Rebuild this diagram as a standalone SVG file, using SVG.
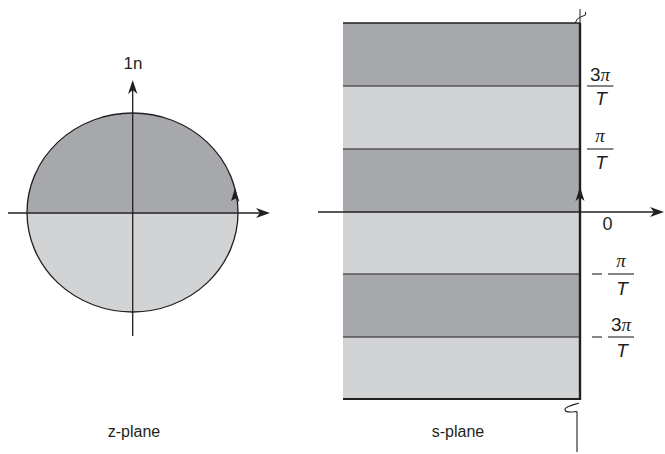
<svg xmlns="http://www.w3.org/2000/svg" width="665" height="454" viewBox="0 0 665 454">
<style>
.ln{stroke:#231f20;fill:none}
.dark{fill:#a7a8ab}
.light{fill:#d2d3d5}
.ah{fill:#231f20;stroke:none}
.t{font-family:"Liberation Sans",Arial,sans-serif;fill:#231f20}
.it{font-family:"Liberation Sans",Arial,sans-serif;font-style:italic;fill:#231f20}
.pi{font-family:"Liberation Serif","Times New Roman",serif;font-style:italic;fill:#231f20}
</style>
<rect width="665" height="454" fill="#fff"/>
<g id="z-plane">
  <ellipse class="light" cx="132.5" cy="212.5" rx="105.5" ry="99.5"/>
  <path class="dark" d="M27,212.5 A105.5,99.5 0 0 1 238,212.5 Z"/>
  <ellipse class="ln" cx="132.5" cy="212.5" rx="105.5" ry="99.5" stroke-width="1.3"/>
  <text class="t" x="133" y="69" font-size="17" text-anchor="middle">1n</text>
  <text class="t" x="134" y="437" font-size="16" text-anchor="middle">z-plane</text>
  <path class="ah" d="M235,188 L239.5,202 L235.8,198.5 L231,201 Z"/>
</g>
<g id="s-plane">
  <rect class="dark" x="343" y="23" width="237" height="63"/>
  <rect class="light" x="343" y="86" width="237" height="63"/>
  <rect class="dark" x="343" y="149" width="237" height="63"/>
  <rect class="light" x="343" y="212" width="237" height="62"/>
  <rect class="dark" x="343" y="274" width="237" height="63"/>
  <rect class="light" x="343" y="337" width="237" height="62"/>
  <g class="ln">
    <line x1="343" y1="23" x2="580" y2="23" stroke-width="1.6"/>
    <line x1="343" y1="86" x2="580" y2="86" stroke-width="1.2"/>
    <line x1="343" y1="149" x2="580" y2="149" stroke-width="1.2"/>
    <line x1="343" y1="274" x2="580" y2="274" stroke-width="1.2"/>
    <line x1="343" y1="337" x2="580" y2="337" stroke-width="1.2"/>
    <line x1="343" y1="399" x2="581" y2="399" stroke-width="2"/>
  </g>
  <text class="t" x="458" y="437" font-size="16" text-anchor="middle">s-plane</text>
</g>
<g id="connectors">
  <line class="ln" x1="8" y1="213" x2="262" y2="213" stroke-width="1.3"/>
  <path class="ah" d="M270,213 L256,208 L260,213 L256,218 Z"/>
  <line class="ln" x1="132.7" y1="88" x2="132.7" y2="336" stroke-width="1.3"/>
  <path class="ah" d="M132.7,80 L128,94 L132.7,90 L137.4,94 Z"/>
  <line class="ln" x1="318" y1="212" x2="656" y2="212" stroke-width="1.4"/>
  <path class="ah" d="M664,212 L650,207 L654,212 L650,217 Z"/>
  <line class="ln" x1="580" y1="23" x2="580" y2="400" stroke-width="2.4"/>
  <path class="ah" d="M580,187 L575.5,201 L580,197.5 L584.5,201 Z"/>
  <path class="ln" d="M580,23 L580,9 M575,23 Q577,18 580.5,17 L585.5,15 L585.5,12" stroke-width="1"/>
  <path class="ln" d="M579,403 C573,405 564,407 565,410 C566,413 571,412 577,411.5 M577,411.5 L577,452" stroke-width="1.1"/>
</g>
<g id="labels">
  <text class="t" x="600" y="81" font-size="19" text-anchor="middle">3<tspan class="pi">π</tspan></text>
  <line class="ln" x1="587" y1="86" x2="613.5" y2="86" stroke-width="1.1"/>
  <text class="it" x="601" y="105" font-size="19" text-anchor="middle">T</text>

  <text class="pi" x="600" y="142" font-size="19" text-anchor="middle">π</text>
  <line class="ln" x1="587" y1="149" x2="613.5" y2="149" stroke-width="1.1"/>
  <text class="it" x="601" y="169" font-size="19" text-anchor="middle">T</text>

  <text class="t" x="607.5" y="230" font-size="18" text-anchor="middle">0</text>

  <line class="ln" x1="592" y1="274" x2="602" y2="274" stroke-width="1.1"/>
  <text class="pi" x="621" y="267" font-size="19" text-anchor="middle">π</text>
  <line class="ln" x1="608" y1="274" x2="634" y2="274" stroke-width="1.1"/>
  <text class="it" x="622" y="295" font-size="19" text-anchor="middle">T</text>

  <line class="ln" x1="592" y1="337" x2="602" y2="337" stroke-width="1.1"/>
  <text class="t" x="621" y="331" font-size="19" text-anchor="middle">3<tspan class="pi">π</tspan></text>
  <line class="ln" x1="608" y1="337" x2="634" y2="337" stroke-width="1.1"/>
  <text class="it" x="622" y="357" font-size="19" text-anchor="middle">T</text>
</g>
</svg>
